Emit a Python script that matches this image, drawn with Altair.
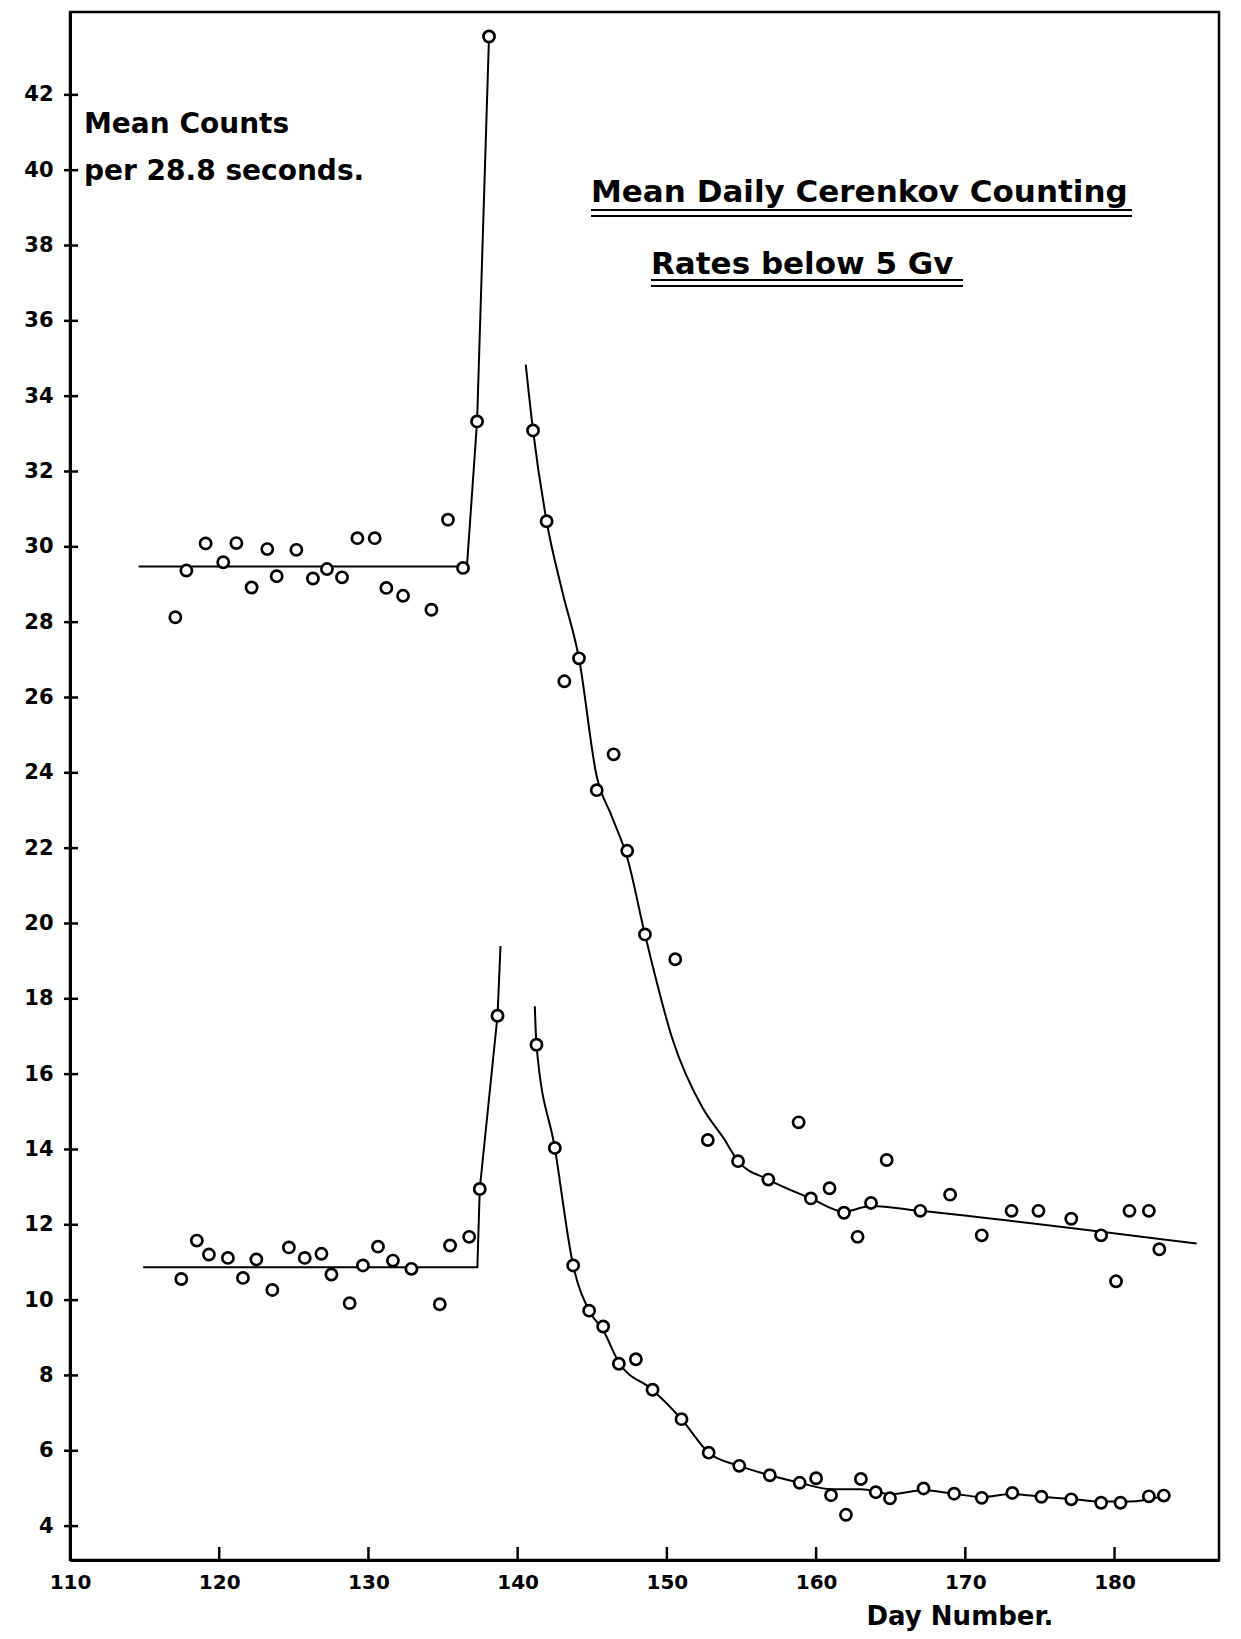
import altair as alt
import pandas as pd

# ---------------- data ----------------
# upper curve (open circles)
upper_day = [117.06, 117.8, 119.09, 120.27, 121.15, 122.17, 123.22, 123.85, 125.17, 126.28,
             127.22, 128.23, 129.26, 130.42, 131.2, 132.32, 134.22, 135.33, 136.34, 137.28, 138.08,
             141.03, 141.94, 143.13, 144.11, 145.30, 146.43, 147.34, 148.53, 150.56, 152.74,
             154.77, 156.8, 158.83, 159.65, 160.9, 161.87, 162.78, 163.68, 164.73, 166.98,
             168.98, 171.1, 173.1, 174.9, 177.1, 179.1, 180.1, 181.0, 182.3, 183.0]
upper_count = [28.13, 29.37, 30.09, 29.59, 30.10, 28.92, 29.94, 29.22, 29.92, 29.16,
               29.41, 29.19, 30.23, 30.23, 28.91, 28.70, 28.33, 30.72, 29.44, 33.33, 43.55,
               33.09, 30.68, 26.43, 27.04, 23.54, 24.49, 21.93, 19.71, 19.05, 14.25,
               13.69, 13.2, 14.72, 12.7, 12.97, 12.32, 11.68, 12.58, 13.72, 12.37,
               12.8, 11.72, 12.37, 12.37, 12.16, 11.72, 10.5, 12.37, 12.37, 11.35]

# lower curve (open circles)
lower_day = [117.46, 118.5, 119.31, 120.58, 121.59, 122.49, 123.56, 124.67, 125.73, 126.85,
             127.52, 128.74, 129.63, 130.64, 131.64, 132.88, 134.78, 135.47, 136.75, 137.46, 138.65,
             141.26, 142.49, 143.72, 144.79, 145.73, 146.78, 147.92, 149.04, 150.98, 152.8,
             154.85, 156.9, 158.9, 160.0, 161.0, 162.0, 163.0, 164.0, 164.95, 167.2,
             169.25, 171.1, 173.15, 175.1, 177.1, 179.1, 180.4, 182.3, 183.3]
lower_count = [10.56, 11.58, 11.21, 11.12, 10.59, 11.08, 10.27, 11.40, 11.12, 11.23,
               10.68, 9.92, 10.92, 11.42, 11.05, 10.83, 9.89, 11.45, 11.68, 12.95, 17.55,
               16.78, 14.04, 10.92, 9.72, 9.3, 8.31, 8.43, 7.62, 6.84, 5.95,
               5.6, 5.35, 5.15, 5.27, 4.82, 4.3, 5.25, 4.9, 4.74, 5.0,
               4.86, 4.75, 4.88, 4.78, 4.71, 4.62, 4.62, 4.79, 4.81]

# hand-drawn fitted lines
upper_rise_day = [114.6, 136.6, 137.28, 138.08]
upper_rise_count = [29.48, 29.48, 33.33, 43.55]
upper_decay_day = [140.54, 141.03, 141.94, 143.0, 144.11, 145.3, 146.3, 147.34, 148.53, 150.4,
                   152.4, 153.8, 154.77, 156.8, 159.65, 161.87, 163.68, 166.98, 185.5]
upper_decay_count = [34.84, 33.09, 30.68, 28.8, 27.04, 23.9, 22.85, 21.75, 19.71, 16.9,
                     15.1, 14.3, 13.69, 13.2, 12.7, 12.35, 12.5, 12.37, 11.5]
lower_rise_day = [114.9, 137.3, 137.46, 138.65, 138.85]
lower_rise_count = [10.87, 10.87, 12.95, 17.55, 19.4]
lower_decay_day = [141.15, 141.26, 142.49, 143.72, 144.79, 145.73, 146.78, 149.04, 150.98,
                   152.8, 154.85, 156.9, 158.9, 161.0, 163.0, 165.0, 167.2, 169.25, 171.1,
                   173.15, 175.1, 177.1, 179.1, 181.0, 183.3]
lower_decay_count = [17.8, 16.78, 14.04, 10.92, 9.72, 9.2, 8.35, 7.62, 6.84,
                     5.95, 5.6, 5.35, 5.15, 4.98, 4.98, 4.85, 4.95, 4.86, 4.77,
                     4.85, 4.78, 4.72, 4.65, 4.65, 4.8]

x_ticks = [110, 120, 130, 140, 150, 160, 170, 180]
y_ticks = [4, 6, 8, 10, 12, 14, 16, 18, 20, 22, 24, 26, 28, 30, 32, 34, 36, 38, 40, 42]

title_line1 = "Mean Daily Cerenkov Counting"
title_line2 = "Rates below 5 Gv"
ylab_line1 = "Mean Counts"
ylab_line2 = "per 28.8 seconds."
xlab = "Day Number."

# ---------------- tables ----------------
points = pd.DataFrame({"day": upper_day + lower_day,
                       "count": upper_count + lower_count})

def seg(days, counts, name):
    return pd.DataFrame({"day": days, "count": counts, "seg": name})

rise = pd.concat([seg(upper_rise_day, upper_rise_count, "ur"),
                  seg(lower_rise_day, lower_rise_count, "lr")])
decay = pd.concat([seg(upper_decay_day, upper_decay_count, "ud"),
                   seg(lower_decay_day, lower_decay_count, "ld")])

W, H = 1149, 1548
FONT = "DejaVu Sans"

xs = alt.Scale(domain=[110, 187], nice=False, zero=False)
ys = alt.Scale(domain=[3.1, 44.2], nice=False, zero=False)

x_enc = alt.X("day:Q", scale=xs,
              axis=alt.Axis(values=x_ticks, title=None, grid=False, ticks=False,
                            labelFontSize=20, labelFont=FONT, labelFontWeight="bold",
                            labelColor="black", labelPadding=12, domainColor="black",
                            domainWidth=3, labelFlush=False))
y_enc = alt.Y("count:Q", scale=ys,
              axis=alt.Axis(values=y_ticks, title=None, grid=False, ticks=False,
                            labelFontSize=21, labelFont=FONT, labelFontWeight="bold",
                            labelColor="black", labelPadding=17, domainColor="black",
                            domainWidth=3, labelFlush=False))

rise_lines = alt.Chart(rise).mark_line(color="black", strokeWidth=2).encode(
    x=x_enc, y=y_enc, detail="seg:N")
decay_lines = alt.Chart(decay).mark_line(color="black", strokeWidth=2,
                                         interpolate="monotone").encode(
    x=alt.X("day:Q", scale=xs), y=alt.Y("count:Q", scale=ys), detail="seg:N")

pts = alt.Chart(points).mark_point(shape="circle", size=125, filled=False,
                                   fill="white", fillOpacity=1, stroke="black",
                                   strokeWidth=2.7, opacity=1).encode(
    x=alt.X("day:Q", scale=xs), y=alt.Y("count:Q", scale=ys))

ytick_rules = alt.Chart(pd.DataFrame({"count": y_ticks})).mark_rule(
    color="black", strokeWidth=2.5).encode(
    y=alt.Y("count:Q", scale=ys), x=alt.value(-6), x2=alt.value(8))
xtick_rules = alt.Chart(pd.DataFrame({"day": x_ticks[1:]})).mark_rule(
    color="black", strokeWidth=2.5).encode(
    x=alt.X("day:Q", scale=xs), y=alt.value(H), y2=alt.value(H - 13))


def text_layer(t, px, py, size, align="left"):
    return alt.Chart(pd.DataFrame({"t": [t]})).mark_text(
        font=FONT, fontSize=size, fontWeight="bold", color="black",
        align=align, baseline="alphabetic").encode(
        text="t:N", x=alt.value(px), y=alt.value(py))


def underline(x1, x2, py):
    return alt.Chart(pd.DataFrame({"t": [0]})).mark_rule(
        color="black", strokeWidth=2).encode(
        x=alt.value(x1), x2=alt.value(x2), y=alt.value(py))


texts = [
    text_layer(ylab_line1, 14, 121, 28),
    text_layer(ylab_line2, 14, 168, 28),
    text_layer(title_line1, 521, 190, 31),
    text_layer(title_line2, 581, 262, 31),
    text_layer(xlab, 890, 1613, 26, align="center"),
    underline(521, 1062, 198), underline(521, 1062, 204),
    underline(581, 893, 268), underline(581, 893, 274),
]

chart = alt.layer(rise_lines, decay_lines, ytick_rules, xtick_rules, pts, *texts).properties(
    width=W, height=H,
    autosize=alt.AutoSizeParams(type="none"),
    padding={"left": 70, "top": 12, "right": 22, "bottom": 79},
    background="white",
).configure_view(stroke="black", strokeWidth=2.5)

chart.save("out.html", embed_options={"renderer": "svg", "actions": False})
